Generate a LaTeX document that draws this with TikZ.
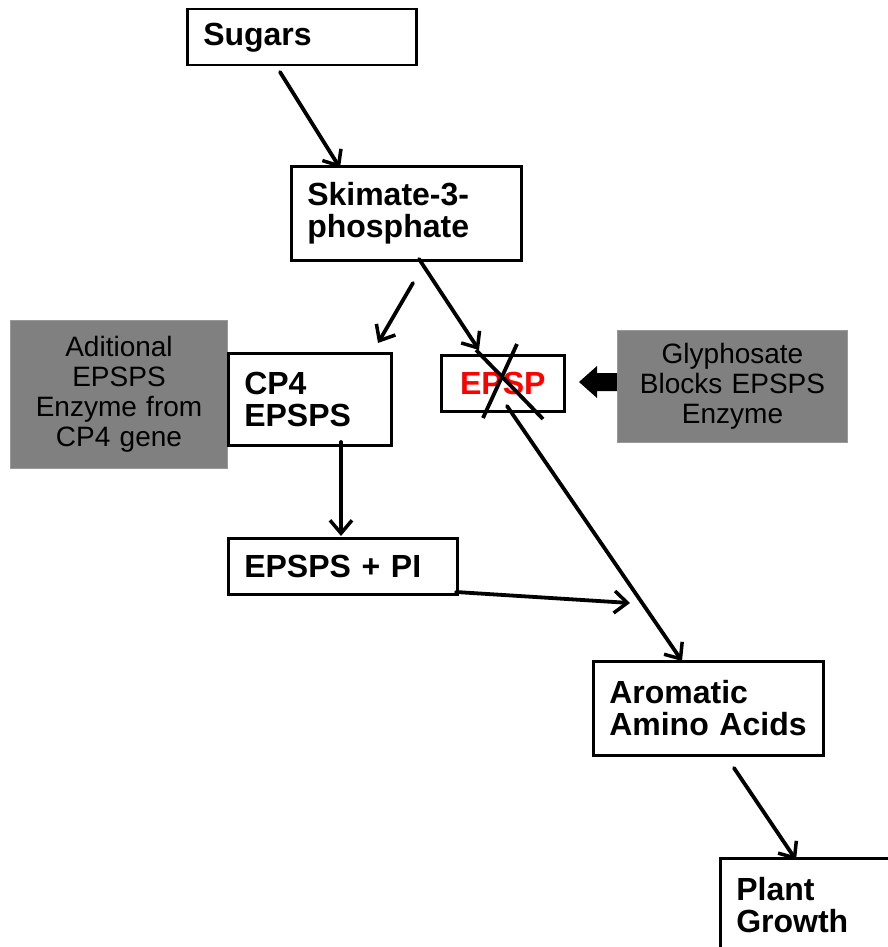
\documentclass[tikz,border=0pt]{standalone}
\usepackage{fontspec}
\setmainfont{Liberation Sans}[WordSpace=0.6]
\newfontfamily\grayfont{Liberation Sans}[WordSpace=0.75]
\usetikzlibrary{arrows.meta,calc}
\definecolor{boxgray}{RGB}{128,128,128}
\begin{document}
\begin{tikzpicture}[x=1pt,y=-1pt,
  stagebox/.style={draw=black,line width=2.5pt,fill=white,rectangle,anchor=north west,
    inner xsep=16pt,inner ysep=0pt,align=left,
    font=\fontsize{32}{32}\selectfont\bfseries},
  graybox/.style={draw=boxgray!80!white,line width=1pt,fill=boxgray,rectangle,anchor=north west,
    inner xsep=4pt,inner ysep=0pt,align=center,
    font=\grayfont\fontsize{28}{30}\selectfont},
  conn/.style={line width=3.8pt,line cap=round,
    -{Straight Barb[length=13pt,width=22pt,line width=3.5pt]}},
  crossline/.style={line width=3.8pt},
  blockarrow/.style={fill=black,draw=none}
]
\useasboundingbox (0,0) rectangle (887,947);

% nodes
\node[stagebox,minimum height=56pt,text width=197pt] (sug) at (186,8) {Sugars};
\node[stagebox,minimum height=94pt,text width=198pt] (sk) at (290,165) {Skimate-3-\\phosphate};
\node[graybox,minimum height=148pt,text width=209pt] (add) at (10,320) {Aditional\\EPSPS\\Enzyme from\\CP4 gene};
\node[stagebox,minimum height=92pt,text width=131pt] (cp) at (227,352) {CP4\\EPSPS};
\node[stagebox,minimum height=56pt,minimum width=123pt,inner xsep=0pt,align=center,text=red] (ep) at (440,354) {EPSP};
\node[graybox,minimum height=112pt,text width=222pt] (gly) at (617,330) {Glyphosate\\Blocks EPSPS\\Enzyme};
\node[stagebox,minimum height=56pt,text width=197pt] (pi) at (227,537) {EPSPS + PI};
\node[stagebox,minimum height=94pt,text width=198pt] (ar) at (592,660) {Aromatic\\Amino Acids};
\node[stagebox,minimum height=94pt,text width=198pt] (pg) at (719,857) {Plant\\Growth};

% connector end points
\coordinate (c1s) at (280,72);  \coordinate (c1e) at (340,168);
\coordinate (c2s) at (413,283); \coordinate (c2e) at (378,343);
\coordinate (c3s) at (419,259); \coordinate (c3e) at (479,350);
\coordinate (c4s) at (507,406); \coordinate (c4e) at (682,661);
\coordinate (c5s) at (341,442); \coordinate (c5e) at (341,536);
\coordinate (c6s) at (456,592); \coordinate (c6e) at (630,603);
\coordinate (c7s) at (734,768); \coordinate (c7e) at (796,860);
\coordinate (x1a) at (483,418); \coordinate (x1b) at (517,344);
\coordinate (x2a) at (476,350); \coordinate (x2b) at (543,419);

\draw[conn] (c1s) -- (c1e);
\draw[conn] (c2s) -- (c2e);
\draw[conn] (c3s) -- (c3e);
\draw[conn] (c4s) -- (c4e);
\draw[conn] (c5s) -- (c5e);
\draw[conn] (c6s) -- (c6e);
\draw[conn] (c7s) -- (c7e);

% cross over EPSP
\draw[crossline] (x1a) -- (x1b);
\draw[crossline] (x2a) -- (x2b);

% block arrow from glyphosate box
\fill[blockarrow] (gly.west |- 0,373) -- (597,373) -- (597,366) -- (579,382)
  -- (597,398) -- (597,391) -- (gly.west |- 0,391) -- cycle;
\end{tikzpicture}
\end{document}
